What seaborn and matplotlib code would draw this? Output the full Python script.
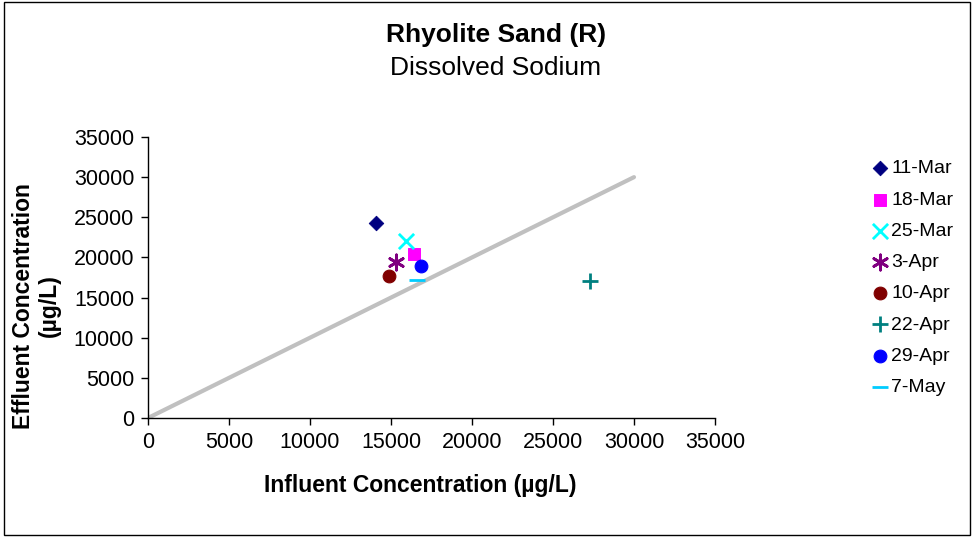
import matplotlib
matplotlib.use("Agg")
import matplotlib.pyplot as plt
import seaborn as sns
import pandas as pd

# ─── Data ────────────────────────────────────────────────────────────────────
dates    = ["11-Mar", "18-Mar", "25-Mar", "3-Apr", "10-Apr", "22-Apr", "29-Apr", "7-May"]
influent = [14100, 16400, 15900, 15300, 14900, 27300, 16850, 16600]
effluent = [24300, 20400, 22000, 19400, 17700, 17100, 18900, 17200]
line_x   = [0, 30000]
line_y   = [0, 30000]
ticks    = [0, 5000, 10000, 15000, 20000, 25000, 30000, 35000]

colors  = ["#000080", "#FF00FF", "#00FFFF", "#800080", "#800000", "#008080", "#0000FF", "#00CCFF"]
markers = ["D", "s", "x", (6, 2, 0), "o", "+", "o", "_"]
sizes   = [55, 75, 120, 120, 85, 120, 85, 120]

df = pd.DataFrame({"date": dates, "influent": influent, "effluent": effluent})

sns.set_theme(style="white")
plt.rcParams["font.family"] = ["Liberation Sans", "DejaVu Sans"]
plt.rcParams["text.color"] = "black"
plt.rcParams["axes.labelcolor"] = "black"

fig = plt.figure(figsize=(9.74, 5.38), dpi=100)
ax = fig.add_axes([148 / 974, 1 - 418 / 538, (715 - 148) / 974, (418 - 137) / 538])

# 1:1 line
sns.lineplot(x=line_x, y=line_y, ax=ax, color="#C0C0C0", lw=3, zorder=1)

for i, d in enumerate(dates):
    sub = df[df["date"] == d]
    kw = dict(edgecolor=colors[i]) if markers[i] in ("D", "s", "o") else dict(linewidth=2)
    sns.scatterplot(data=sub, x="influent", y="effluent", ax=ax, color=colors[i],
                    marker=markers[i], s=sizes[i], label=d, zorder=3, **kw)

ax.set_xlim(0, 35000)
ax.set_ylim(0, 35000)
ax.set_xticks(ticks)
ax.set_yticks(ticks)
ax.tick_params(axis="both", labelsize=15.5, length=5, width=1, direction="out",
               bottom=True, left=True, colors="black", labelcolor="black", pad=5)
for s in ["top", "right"]:
    ax.spines[s].set_visible(False)
for s in ["left", "bottom"]:
    ax.spines[s].set_color("black")
    ax.spines[s].set_linewidth(1)

ax.set_xlabel("Influent Concentration (µg/L)", fontsize=16.5, fontweight="bold")
ax.set_ylabel("Effluent Concentration\n(µg/L)", fontsize=16.5, fontweight="bold")
ax.xaxis.set_label_coords(0.48, -0.2)
ax.yaxis.set_label_coords(-0.153, 0.4)

fig.text(496 / 974, 1 - 35 / 538, "Rhyolite Sand (R)", ha="center", va="center",
         fontsize=19, fontweight="bold")
fig.text(496 / 974, 1 - 68 / 538, "Dissolved Sodium", ha="center", va="center", fontsize=19)

leg = ax.legend(loc="upper left", bbox_to_anchor=(862 / 974, 1 - 152 / 538),
                bbox_transform=fig.transFigure, frameon=False, fontsize=14,
                handletextpad=0.1, labelspacing=0.7, handlelength=1.0, borderaxespad=0)

# outer frame
fig.patches.append(plt.Rectangle((0.004, 0.006), 0.992, 0.99, transform=fig.transFigure,
                                 fill=False, edgecolor="black", lw=1))

fig.savefig("out.png", dpi=100)
